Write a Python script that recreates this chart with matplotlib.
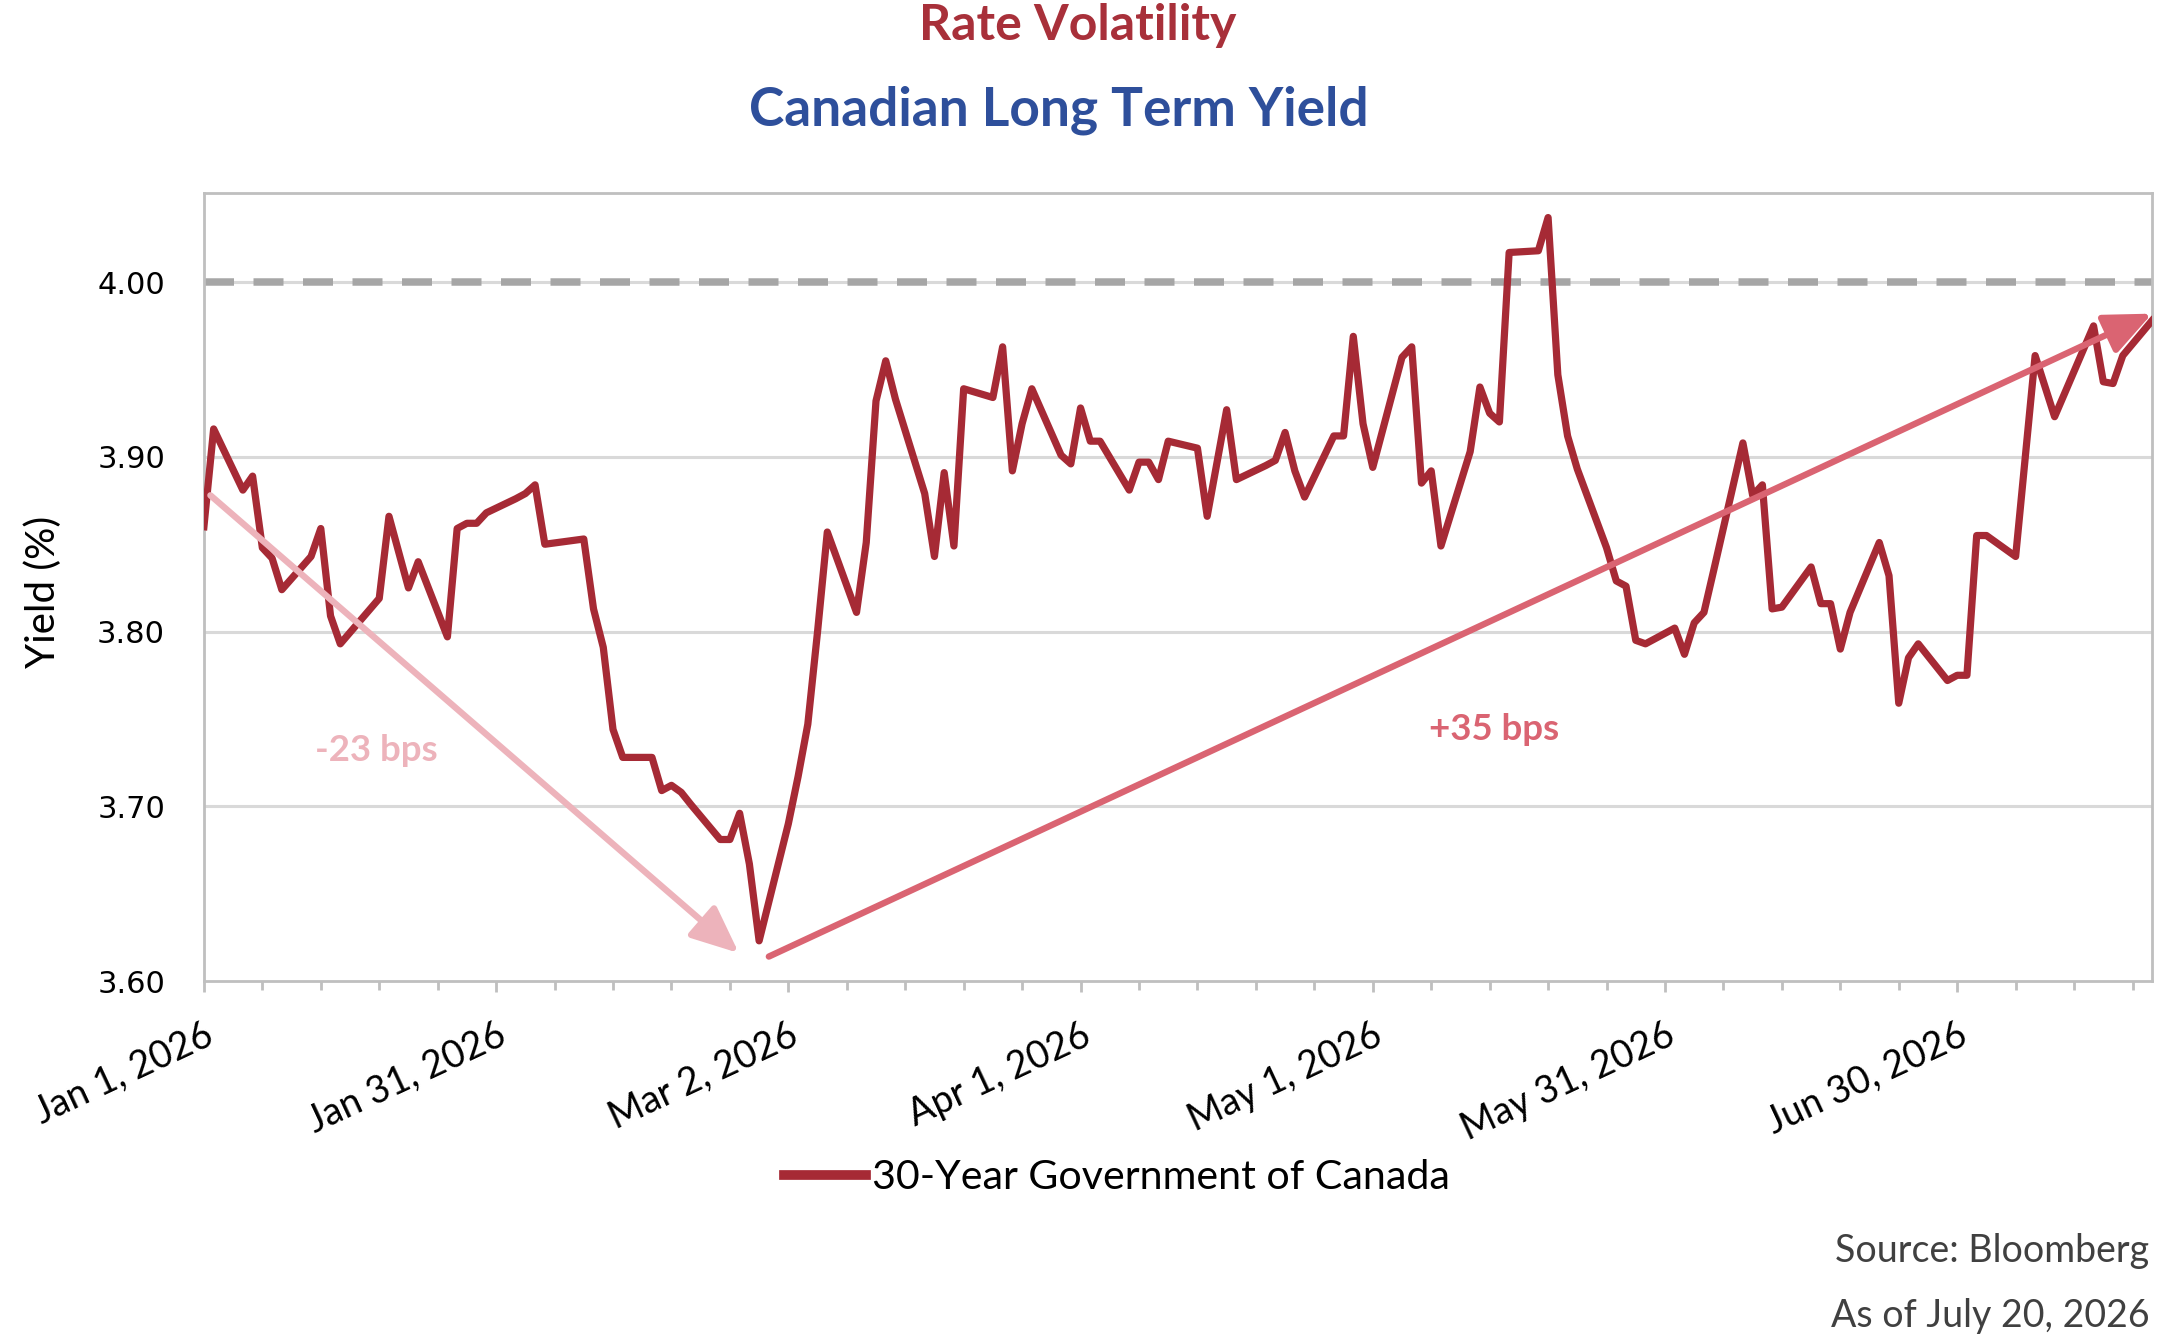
"""
Rate volatility chart: 30-year Government of Canada yield, Jan-Jul 2026.
"""
import pandas as pd
import matplotlib
matplotlib.use("Agg")
import matplotlib.pyplot as plt
import matplotlib.dates as mdates
from matplotlib.ticker import FixedLocator, FuncFormatter, NullFormatter

plt.rcParams["font.family"] = ["Lato", "DejaVu Sans"]

# vertices of the yield line
dates = [
    "2026-01-01", "2026-01-02", "2026-01-05", "2026-01-06", "2026-01-07",
    "2026-01-08", "2026-01-09", "2026-01-12", "2026-01-13", "2026-01-14",
    "2026-01-15", "2026-01-19", "2026-01-20", "2026-01-22", "2026-01-23",
    "2026-01-26", "2026-01-27", "2026-01-28", "2026-01-29", "2026-01-30",
    "2026-02-02", "2026-02-03", "2026-02-04", "2026-02-05", "2026-02-09",
    "2026-02-10", "2026-02-11", "2026-02-12", "2026-02-13", "2026-02-16",
    "2026-02-17", "2026-02-18", "2026-02-19", "2026-02-20", "2026-02-23",
    "2026-02-24", "2026-02-25", "2026-02-26", "2026-02-27", "2026-03-02",
    "2026-03-03", "2026-03-04", "2026-03-05", "2026-03-06", "2026-03-09",
    "2026-03-10", "2026-03-11", "2026-03-12", "2026-03-13", "2026-03-16",
    "2026-03-17", "2026-03-18", "2026-03-19", "2026-03-20", "2026-03-23",
    "2026-03-24", "2026-03-25", "2026-03-26", "2026-03-27", "2026-03-30",
    "2026-03-31", "2026-04-01", "2026-04-02", "2026-04-03", "2026-04-06",
    "2026-04-07", "2026-04-08", "2026-04-09", "2026-04-10", "2026-04-13",
    "2026-04-14", "2026-04-16", "2026-04-17", "2026-04-20", "2026-04-21",
    "2026-04-22", "2026-04-23", "2026-04-24", "2026-04-27", "2026-04-28",
    "2026-04-29", "2026-04-30", "2026-05-01", "2026-05-04", "2026-05-05",
    "2026-05-06", "2026-05-07", "2026-05-08", "2026-05-11", "2026-05-12",
    "2026-05-13", "2026-05-14", "2026-05-15", "2026-05-18", "2026-05-19",
    "2026-05-20", "2026-05-21", "2026-05-22", "2026-05-25", "2026-05-26",
    "2026-05-27", "2026-05-28", "2026-05-29", "2026-06-01", "2026-06-02",
    "2026-06-03", "2026-06-04", "2026-06-05", "2026-06-08", "2026-06-09",
    "2026-06-10", "2026-06-11", "2026-06-12", "2026-06-15", "2026-06-16",
    "2026-06-17", "2026-06-18", "2026-06-19", "2026-06-22", "2026-06-23",
    "2026-06-24", "2026-06-25", "2026-06-26", "2026-06-29", "2026-06-30",
    "2026-07-01", "2026-07-02", "2026-07-03", "2026-07-06", "2026-07-08",
    "2026-07-10", "2026-07-14", "2026-07-15", "2026-07-16", "2026-07-17",
    "2026-07-20",
]
yield_30y = [
    3.860, 3.916, 3.881, 3.889, 3.848,
    3.842, 3.824, 3.843, 3.859, 3.809,
    3.793, 3.819, 3.866, 3.825, 3.840,
    3.797, 3.859, 3.862, 3.862, 3.868,
    3.876, 3.879, 3.884, 3.850, 3.853,
    3.813, 3.791, 3.744, 3.728, 3.728,
    3.709, 3.712, 3.708, 3.701, 3.681,
    3.681, 3.696, 3.667, 3.623, 3.690,
    3.717, 3.747, 3.800, 3.857, 3.811,
    3.851, 3.932, 3.955, 3.933, 3.879,
    3.843, 3.891, 3.849, 3.939, 3.934,
    3.963, 3.892, 3.919, 3.939, 3.901,
    3.896, 3.928, 3.909, 3.909, 3.881,
    3.897, 3.897, 3.887, 3.909, 3.905,
    3.866, 3.927, 3.887, 3.895, 3.898,
    3.914, 3.892, 3.877, 3.912, 3.912,
    3.969, 3.919, 3.894, 3.957, 3.963,
    3.885, 3.892, 3.849, 3.903, 3.940,
    3.925, 3.920, 4.017, 4.018, 4.037,
    3.947, 3.912, 3.893, 3.848, 3.829,
    3.826, 3.795, 3.793, 3.802, 3.787,
    3.805, 3.811, 3.835, 3.908, 3.878,
    3.884, 3.813, 3.814, 3.837, 3.816,
    3.816, 3.790, 3.811, 3.851, 3.832,
    3.759, 3.785, 3.793, 3.772, 3.775,
    3.775, 3.855, 3.855, 3.843, 3.958,
    3.923, 3.975, 3.943, 3.942, 3.958,
    3.978,
]

# trend arrows: (start date, start yield) -> (end date, end yield)
down_arrow = [("2026-01-01 16:00", 3.878), ("2026-02-24 22:00", 3.616)]
up_arrow = [("2026-02-28", 3.614), ("2026-07-20", 3.982)]
down_label = ("-23 bps", "2026-01-18 16:00", 3.732)
up_label = ("+35 bps", "2026-05-13 10:00", 3.744)

y_ticks = [3.60, 3.70, 3.80, 3.90, 4.00]
x_start, x_end = "2026-01-01", "2026-07-20"

LINE_RED = "#A62A35"
TITLE_RED = "#A8303A"
TITLE_BLUE = "#2E4F9B"
PINK = "#EDB3BB"
ROSE = "#DA6472"
GRID = "#D9D9D9"
SPINE = "#BFBFBF"


def main():
    x = pd.to_datetime(dates)
    fig = plt.figure(figsize=(10.8, 6.7), dpi=200)
    ax = fig.add_axes([0.0944, 0.2679, 0.9019, 0.588])

    ax.set_xlim(pd.Timestamp(x_start), pd.Timestamp(x_end))
    ax.set_ylim(3.60, 4.051)

    for yv in y_ticks[1:]:
        ax.axhline(yv, color=GRID, lw=1.1, zorder=1)
    ax.axhline(4.0, color="#A6A6A6", lw=2.7, dashes=(4, 2.6), zorder=2)

    ax.plot(x, yield_30y, color=LINE_RED, lw=2.6, zorder=3,
            solid_joinstyle="round", label="30-Year Government of Canada")

    for arrow, col in [(down_arrow, PINK), (up_arrow, ROSE)]:
        (d0, v0), (d1, v1) = arrow
        ax.annotate("", xy=(pd.Timestamp(d1), v1), xytext=(pd.Timestamp(d0), v0),
                    arrowprops=dict(arrowstyle="-|>,head_length=0.8,head_width=0.35",
                                    color=col, lw=2.3, shrinkA=0, shrinkB=0,
                                    mutation_scale=18),
                    zorder=4)

    for (txt, d, v), col in [(down_label, PINK), (up_label, ROSE)]:
        ax.text(pd.Timestamp(d), v, txt, color=col, fontsize=13.2,
                fontweight="bold", ha="center", va="center", zorder=5)

    # axes styling
    for sp in ax.spines.values():
        sp.set_color(SPINE)
        sp.set_linewidth(1.0)
    ax.set_yticks(y_ticks)
    ax.set_yticklabels([f"{v:.2f}" for v in y_ticks], family="DejaVu Sans",
                       fontsize=11)
    ax.tick_params(axis="y", length=0, pad=14)

    major = pd.date_range(x_start, periods=7, freq="30D")
    minor = pd.date_range(x_start, x_end, freq="6D")
    ax.xaxis.set_major_locator(FixedLocator(mdates.date2num(major)))
    ax.xaxis.set_minor_locator(FixedLocator(mdates.date2num(minor)))
    ax.xaxis.set_major_formatter(FuncFormatter(
        lambda v, pos: (lambda d: f"{d:%b} {d.day}, {d.year}")(mdates.num2date(v))))
    ax.xaxis.set_minor_formatter(NullFormatter())
    ax.tick_params(axis="x", which="major", length=4, width=1.0, color=SPINE,
                   pad=9, labelsize=13.5)
    ax.tick_params(axis="x", which="minor", length=3.3, width=1.0, color=SPINE)
    for lbl in ax.get_xticklabels():
        lbl.set_rotation(25)
        lbl.set_ha("right")
        lbl.set_va("top")
        lbl.set_rotation_mode("anchor")

    ax.set_ylabel("Yield (%)", fontsize=14.5)
    ax.yaxis.set_label_coords(-0.073, 0.494)

    leg = fig.legend(loc="center", bbox_to_anchor=(0.517, 0.121), frameon=False,
                     fontsize=14.8, handlelength=2.0, handletextpad=0.15)
    leg.get_lines()[0].set_linewidth(3.5)

    fig.text(0.4987, 0.981, "Rate Volatility", color=TITLE_RED, fontsize=18,
             fontweight="bold", ha="center", va="center")
    fig.text(0.490, 0.918, "Canadian Long Term Yield", color=TITLE_BLUE,
             fontsize=19.2, fontweight="bold", ha="center", va="center")

    fig.text(0.995, 0.0664, "Source: Bloomberg", color="#404040", fontsize=13.5,
             ha="right", va="center")
    fig.text(0.995, 0.018, "As of July 20, 2026", color="#404040", fontsize=13.5,
             ha="right", va="center")

    fig.savefig("out.png", dpi=200, facecolor="white")


if __name__ == "__main__":
    main()
